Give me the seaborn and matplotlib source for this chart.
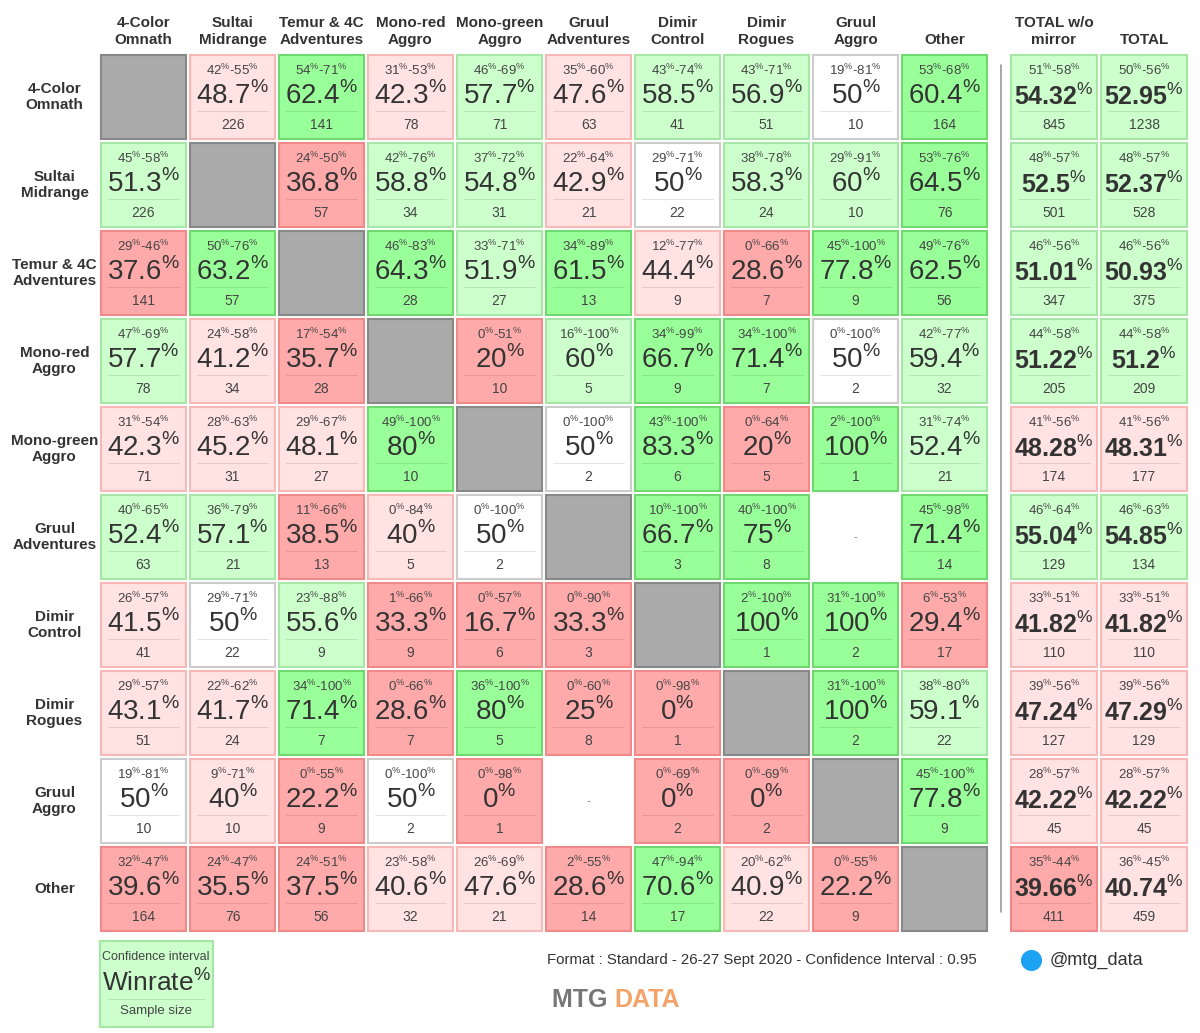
import numpy as np
import pandas as pd
import seaborn as sns
import matplotlib
matplotlib.use("Agg")
import matplotlib.pyplot as plt
from matplotlib.colors import ListedColormap
from matplotlib.patches import Rectangle

decks = ["4-Color\nOmnath", "Sultai\nMidrange", "Temur & 4C\nAdventures", "Mono-red\nAggro",
         "Mono-green\nAggro", "Gruul\nAdventures", "Dimir\nControl", "Dimir\nRogues",
         "Gruul\nAggro", "Other"]
total_cols = ["TOTAL w/o\nmirror", "TOTAL"]

# winrate matrix (row deck vs column deck); None = mirror, "-" = no data
winrate = [
    [None, 48.7, 62.4, 42.3, 57.7, 47.6, 58.5, 56.9, 50, 60.4],
    [51.3, None, 36.8, 58.8, 54.8, 42.9, 50, 58.3, 60, 64.5],
    [37.6, 63.2, None, 64.3, 51.9, 61.5, 44.4, 28.6, 77.8, 62.5],
    [57.7, 41.2, 35.7, None, 20, 60, 66.7, 71.4, 50, 59.4],
    [42.3, 45.2, 48.1, 80, None, 50, 83.3, 20, 100, 52.4],
    [52.4, 57.1, 38.5, 40, 50, None, 66.7, 75, "-", 71.4],
    [41.5, 50, 55.6, 33.3, 16.7, 33.3, None, 100, 100, 29.4],
    [43.1, 41.7, 71.4, 28.6, 80, 25, 0, None, 100, 59.1],
    [50, 40, 22.2, 50, 0, "-", 0, 0, None, 77.8],
    [39.6, 35.5, 37.5, 40.6, 47.6, 28.6, 70.6, 40.9, 22.2, None],
]
ci_low = [
    [None, 42, 54, 31, 46, 35, 43, 43, 19, 53],
    [45, None, 24, 42, 37, 22, 29, 38, 29, 53],
    [29, 50, None, 46, 33, 34, 12, 0, 45, 49],
    [47, 24, 17, None, 0, 16, 34, 34, 0, 42],
    [31, 28, 29, 49, None, 0, 43, 0, 2, 31],
    [40, 36, 11, 0, 0, None, 10, 40, None, 45],
    [26, 29, 23, 1, 0, 0, None, 2, 31, 6],
    [29, 22, 34, 0, 36, 0, 0, None, 31, 38],
    [19, 9, 0, 0, 0, None, 0, 0, None, 45],
    [32, 24, 24, 23, 26, 2, 47, 20, 0, None],
]
ci_high = [
    [None, 55, 71, 53, 69, 60, 74, 71, 81, 68],
    [58, None, 50, 76, 72, 64, 71, 78, 91, 76],
    [46, 76, None, 83, 71, 89, 77, 66, 100, 76],
    [69, 58, 54, None, 51, 100, 99, 100, 100, 77],
    [54, 63, 67, 100, None, 100, 100, 64, 100, 74],
    [65, 79, 66, 84, 100, None, 100, 100, None, 98],
    [57, 71, 88, 66, 57, 90, None, 100, 100, 53],
    [57, 62, 100, 66, 100, 60, 98, None, 100, 80],
    [81, 71, 55, 100, 98, None, 69, 69, None, 100],
    [47, 47, 51, 58, 69, 55, 94, 62, 55, None],
]
samples = [
    [None, 226, 141, 78, 71, 63, 41, 51, 10, 164],
    [226, None, 57, 34, 31, 21, 22, 24, 10, 76],
    [141, 57, None, 28, 27, 13, 9, 7, 9, 56],
    [78, 34, 28, None, 10, 5, 9, 7, 2, 32],
    [71, 31, 27, 10, None, 2, 6, 5, 1, 21],
    [63, 21, 13, 5, 2, None, 3, 8, None, 14],
    [41, 22, 9, 9, 6, 3, None, 1, 2, 17],
    [51, 24, 7, 7, 5, 8, 1, None, 2, 22],
    [10, 10, 9, 2, 1, None, 2, 2, None, 9],
    [164, 76, 56, 32, 21, 14, 17, 22, 9, None],
]
tot_winrate = [["54.32", "52.95"], ["52.5", "52.37"], ["51.01", "50.93"], ["51.22", "51.2"],
               ["48.28", "48.31"], ["55.04", "54.85"], ["41.82", "41.82"], ["47.24", "47.29"],
               ["42.22", "42.22"], ["39.66", "40.74"]]
tot_low = [[51, 50], [48, 48], [46, 46], [44, 44], [41, 41], [46, 46], [33, 33], [39, 39], [28, 28], [35, 36]]
tot_high = [[58, 56], [57, 57], [56, 56], [58, 58], [56, 56], [64, 63], [51, 51], [56, 56], [57, 57], [44, 45]]
tot_samples = [[845, 1238], [501, 528], [347, 375], [205, 209], [174, 177], [129, 134],
               [110, 110], [127, 129], [45, 45], [411, 459]]

FILLS = ["#ffaaaa", "#ffe2e2", "#ffffff", "#ccffcc", "#99ff99", "#aaaaaa", "#ffffff"]
EDGES = ["#f08a8a", "#f7b8b8", "#cccccc", "#a6e6a6", "#6fd86f", "#888888", None]


def cat(v):
    if v is None:
        return 5
    if v == "-":
        return 6
    v = float(v)
    if v < 40:
        return 0
    if v < 50:
        return 1
    if v == 50:
        return 2
    if v <= 60:
        return 3
    return 4


def fmt(v):
    return f"{float(v):g}"


W, H = 1200, 1033
sns.set_style("white")
plt.rcParams['font.family'] = ['Liberation Sans', 'DejaVu Sans']
plt.rcParams['mathtext.fontset'] = 'custom'
plt.rcParams['mathtext.rm'] = 'Liberation Sans'
plt.rcParams['mathtext.bf'] = 'Liberation Sans:bold'
fig = plt.figure(figsize=(W / 100, H / 100), dpi=100)
TXT = "#333333"


def px(x, y, w, h):
    return [x / W, 1 - (y + h) / H, w / W, h / H]


def draw_grid(ax, wr, lo, hi, n, cols, bold):
    nr, nc = len(wr), len(wr[0])
    codes = pd.DataFrame([[cat(wr[i][j]) for j in range(nc)] for i in range(nr)],
                         columns=[c for c in cols])
    sns.heatmap(codes, ax=ax, cmap=ListedColormap(FILLS), vmin=-0.5, vmax=6.5,
                cbar=False, linewidths=3.5, linecolor="white", annot=False)
    ax.set_xticks([]); ax.set_yticks([])
    ax.set_xlabel(""); ax.set_ylabel("")
    for i in range(nr):
        for j in range(nc):
            c = codes.iat[i, j]
            if EDGES[c]:
                ax.add_patch(Rectangle((j + 0.022, i + 0.022), 0.956, 0.956, fill=False,
                                       edgecolor=EDGES[c], lw=1.5, zorder=3))
            v = wr[i][j]
            if v is None:
                continue
            if v == "-":
                ax.text(j + 0.5, i + 0.5, "-", ha="center", va="center", fontsize=8, color="#777")
                continue
            ax.text(j + 0.5, i + 0.2, rf"{lo[i][j]}$^{{\%}}$-{hi[i][j]}$^{{\%}}$", ha="center",
                    va="center", fontsize=9.5, color="#444")
            if bold:
                ax.text(j + 0.5, i + 0.5, rf"$\mathbf{{{v}}}^{{\%}}$", ha="center",
                        va="center", fontsize=18, color=TXT)
            else:
                ax.text(j + 0.5, i + 0.49, rf"{fmt(v)}$^{{\%}}$", ha="center",
                        va="center", fontsize=20, color=TXT)
            ax.plot([j + 0.1, j + 0.9], [i + 0.66, i + 0.66], color=(0, 0, 0, 0.1), lw=0.8)
            ax.text(j + 0.5, i + 0.82, str(n[i][j]), ha="center", va="center", fontsize=10,
                    color="#444")
    for j, c in enumerate(cols):
        ax.text(j + 0.5, -0.07, c, ha="center", va="bottom", fontsize=11, fontweight="bold",
                color=TXT, linespacing=1.25)
    for s in ax.spines.values():
        s.set_visible(False)


ax_main = fig.add_axes(px(99, 53, 890, 880))
draw_grid(ax_main, winrate, ci_low, ci_high, samples, decks, False)
for i, d in enumerate(decks):
    ax_main.text(-0.5, i + 0.5, d, ha="center", va="center", fontsize=11, fontweight="bold",
                 color=TXT, linespacing=1.25)

ax_tot = fig.add_axes(px(1009, 53, 180, 880))
draw_grid(ax_tot, tot_winrate, tot_low, tot_high, tot_samples, total_cols, True)

ov = fig.add_axes([0, 0, 1, 1]); ov.set_xlim(0, W); ov.set_ylim(H, 0); ov.axis("off")
ov.plot([1001, 1001], [65, 912], color="#999999", lw=1.2)
ov.add_patch(Rectangle((100, 941), 113, 86, facecolor="#ccffcc", edgecolor="#a6e6a6", lw=1.5))
ov.text(156, 957, "Confidence interval", ha="center", va="center", fontsize=9, color="#444")
ov.text(156, 982, r"Winrate$^{\%}$", ha="center", va="center", fontsize=19, color=TXT)
ov.plot([108, 205], [999, 999], color=(0, 0, 0, 0.1), lw=0.8)
ov.text(156, 1011, "Sample size", ha="center", va="center", fontsize=9.5, color="#444")
ov.text(547, 960, "Format : Standard - 26-27 Sept 2020 - Confidence Interval : 0.95",
        ha="left", va="center", fontsize=10.8, color=TXT)
ov.scatter([1031], [960], s=200, marker="o", color="#1da1f2")
ov.text(1050, 960, "@mtg_data", ha="left", va="center", fontsize=13, color=TXT)
ov.text(614, 1000, "MTG ", ha="right", va="center", fontsize=18, fontweight="bold", color="#777777")
ov.text(614, 1000, "DATA", ha="left", va="center", fontsize=18, fontweight="bold", color="#f4a46a")

fig.savefig("out.png", dpi=100)
